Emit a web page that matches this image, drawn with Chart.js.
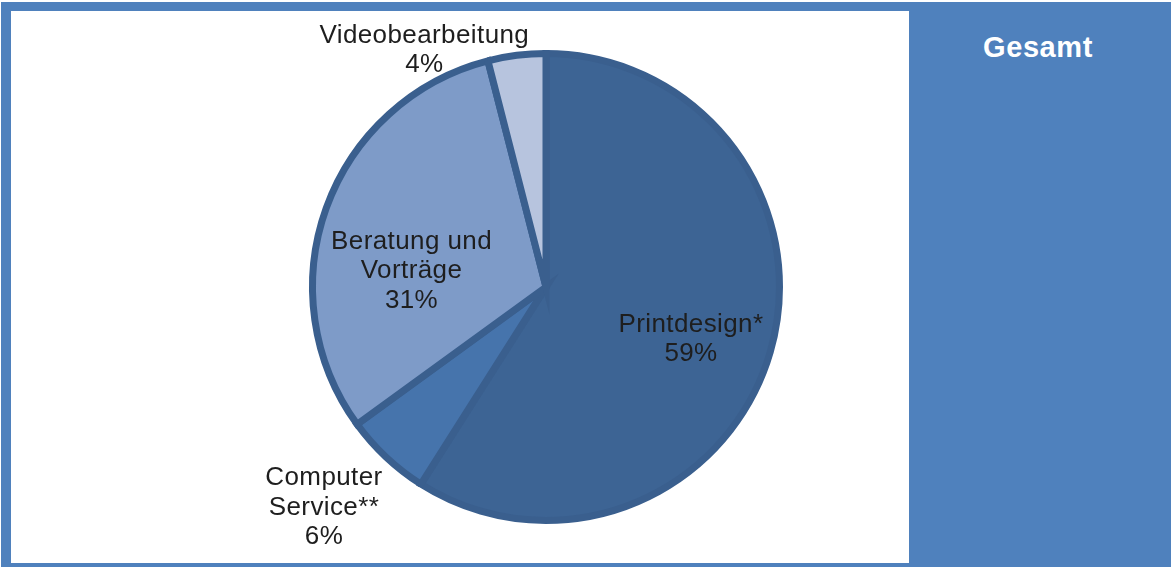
<!DOCTYPE html>
<html>
<head>
<meta charset="utf-8">
<script src="https://cdn.jsdelivr.net/npm/chart.js@4/dist/chart.umd.min.js"></script>
<style>
  html, body { margin: 0; padding: 0; background: #ffffff; width: 1171px; height: 567px; overflow: hidden; }
  #frame { position: absolute; left: 1px; top: 2px; width: 1170px; height: 565px; background: #4F81BD; }
  #white { position: absolute; left: 11px; top: 11px; width: 898px; height: 552px; background: #ffffff; }
  #title { position: absolute; left: 907px; top: 27px; width: 262px; text-align: center; color: #ffffff;
           font-family: "Liberation Sans", Arial, sans-serif; font-weight: bold; font-size: 29px; line-height: 40px; letter-spacing: 0.6px; }
  #wrap { position: absolute; left: 0; top: 0; width: 1171px; height: 567px; }
</style>
</head>
<body>
<div id="frame"></div>
<div id="white"></div>
<div id="title">Gesamt</div>
<div id="wrap"><canvas id="c" width="1171" height="567"></canvas></div>
<script>
const categories = ["Printdesign*", "Computer Service**", "Beratung und Vorträge", "Videobearbeitung"];
const labelLines = [["Printdesign*"], ["Computer", "Service**"], ["Beratung und", "Vorträge"], ["Videobearbeitung"]];
const values = [59, 6, 31, 4];
const sliceColors = ["#3D6494", "#4674AC", "#7E9BC8", "#B7C4DE"];

// label placement relative to each arc: radial factor (of outer radius) and angular shift (deg)
const labelPlacement = [
  { k: 0.66, shift: 3.6 },
  { k: 1.34, shift: 2.0 },
  { k: 0.58, shift: -13 },
  { k: 1.14, shift: -20 }
];

const labelPlugin = {
  id: 'sliceLabels',
  afterDatasetsDraw(chart) {
    const ctx = chart.ctx;
    const meta = chart.getDatasetMeta(0);
    const total = values.reduce((a, b) => a + b, 0);
    ctx.save();
    ctx.font = '26px "Liberation Sans", Arial, sans-serif';
    try { ctx.letterSpacing = '0.4px'; } catch (e) {}
    ctx.fillStyle = '#1e1e1e';
    ctx.textAlign = 'center';
    ctx.textBaseline = 'middle';
    const lh = 29.5;
    meta.data.forEach((arc, i) => {
      const p = arc.getProps(['x', 'y', 'startAngle', 'endAngle', 'outerRadius'], true);
      const mid = (p.startAngle + p.endAngle) / 2 + labelPlacement[i].shift * Math.PI / 180;
      const r = p.outerRadius * labelPlacement[i].k;
      const cx = p.x + Math.cos(mid) * r;
      const cy = p.y + Math.sin(mid) * r;
      const lines = labelLines[i].concat([Math.round(values[i] / total * 100) + '%']);
      const y0 = cy - (lines.length - 1) * lh / 2;
      lines.forEach((t, j) => ctx.fillText(t, cx, y0 + j * lh));
    });
    ctx.restore();
  }
};

new Chart(document.getElementById('c'), {
  type: 'pie',
  data: {
    labels: categories,
    datasets: [{
      data: values,
      backgroundColor: sliceColors,
      borderColor: '#3A5F8E',
      borderWidth: 7,
      borderJoinStyle: 'miter'
    }]
  },
  options: {
    responsive: false,
    animation: false,
    radius: 233.5,
    layout: { padding: { left: 0, right: 79, top: 7, bottom: 0 } },
    plugins: { legend: { display: false }, tooltip: { enabled: false } }
  },
  plugins: [labelPlugin]
});
</script>
</body>
</html>
